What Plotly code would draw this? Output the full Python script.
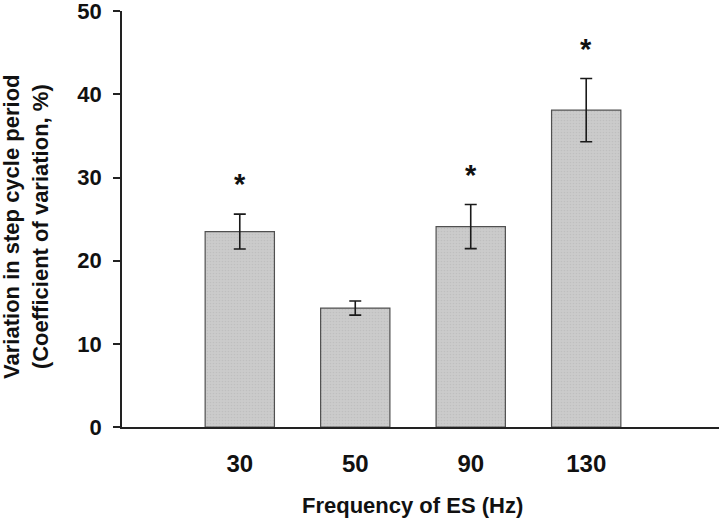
import plotly.graph_objects as go

categories = ["30", "50", "90", "130"]
values = [23.5, 14.3, 24.1, 38.1]
errors = [2.1, 0.85, 2.65, 3.8]
significant = [True, False, True, True]
y_ticks = [0, 10, 20, 30, 40, 50]

FONT = "Arial, Liberation Sans, sans-serif"

fig = go.Figure()
fig.add_trace(go.Bar(
    x=categories,
    y=values,
    width=0.6,
    marker=dict(
        color="#c9c9c9",
        line=dict(color="#505050", width=1.2),
        pattern=dict(shape=".", size=3, solidity=0.25, fgcolor="#b4b4b4", bgcolor="#cbcbcb"),
    ),
    error_y=dict(type="data", array=errors, visible=True, color="#1a1a1a", thickness=1.6, width=6),
    showlegend=False,
    hoverinfo="skip",
))

for i, (v, e, sig) in enumerate(zip(values, errors, significant)):
    if sig:
        fig.add_annotation(
            x=i, y=v + e, xref="x", yref="y",
            text="<b>*</b>", showarrow=False,
            font=dict(family=FONT, size=29, color="#111"),
            yanchor="middle", yshift=30,
        )

fig.add_annotation(
    x=0, y=0.481, xref="paper", yref="paper",
    text="<b>Variation in step cycle period<br>(Coefficient of variation, %)</b>",
    textangle=-90, showarrow=False, xanchor="center", yanchor="middle", xshift=-96,
    font=dict(family=FONT, size=22, color="#111"),
)
fig.add_annotation(
    x=0.487, y=0, xref="paper", yref="paper",
    text="<b>Frequency of ES (Hz)</b>", showarrow=False,
    xanchor="center", yanchor="middle", yshift=-78,
    font=dict(family=FONT, size=22, color="#111"),
)

fig.update_layout(
    width=720, height=520,
    margin=dict(l=122, r=1, t=11, b=93, autoexpand=False),
    paper_bgcolor="white", plot_bgcolor="white",
    bargap=0.4,
)
fig.update_xaxes(
    type="category", range=[-1.02, 4.15],
    showline=True, linecolor="#222", linewidth=1.5,
    ticks="", showgrid=False, zeroline=False,
    tickfont=dict(family=FONT, size=24, color="#111"),
    tickprefix="<b>", ticksuffix="</b>",
    ticklabelstandoff=14,
)
fig.update_yaxes(
    range=[0, 50.02], tickvals=y_ticks, ticktext=[f"<b>{t}</b>" for t in y_ticks],
    showline=True, linecolor="#222", linewidth=1.5,
    ticks="outside", ticklen=7, tickwidth=1.5, tickcolor="#222",
    showgrid=False, zeroline=False,
    tickfont=dict(family=FONT, size=22, color="#111"),
    ticklabelstandoff=7, ticklabeloverflow="allow",
)

fig.write_html("out.html", config={"displayModeBar": False},
               post_script="document.body.style.margin='0px';")
